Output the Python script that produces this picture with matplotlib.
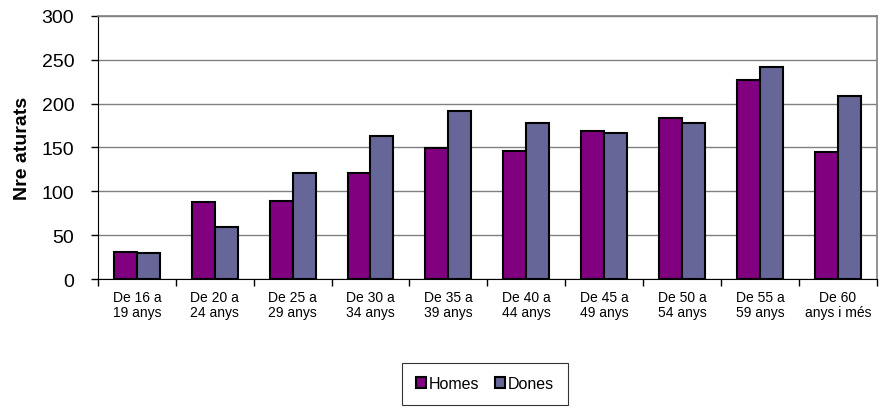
import numpy as np
import matplotlib.pyplot as plt

plt.rcParams['font.family'] = ['Liberation Sans', 'DejaVu Sans']

categories = ["De 16 a\n19 anys", "De 20 a\n24 anys", "De 25 a\n29 anys", "De 30 a\n34 anys",
              "De 35 a\n39 anys", "De 40 a\n44 anys", "De 45 a\n49 anys", "De 50 a\n54 anys",
              "De 55 a\n59 anys", "De 60\nanys i més"]
homes = [31, 88, 89, 121, 149, 146, 169, 183, 227, 145]
dones = [30, 59, 121, 163, 191, 178, 166, 178, 242, 209]

fig = plt.figure(figsize=(8.82, 4.10), dpi=100)
ax = fig.add_axes([0.111, 0.317, 0.883, 0.642])

x = np.arange(len(categories))
w = 0.295
ax.bar(x - w / 2, homes, w, color="#800080", edgecolor="black", linewidth=1.5, label="Homes", zorder=3)
ax.bar(x + w / 2, dones, w, color="#666699", edgecolor="black", linewidth=1.5, label="Dones", zorder=3)

ax.set_xlim(-0.5, len(categories) - 0.5)
ax.set_ylim(0, 300)
ax.set_yticks(range(0, 301, 50))
ax.tick_params(axis="y", labelsize=14, length=5, width=1, pad=12, colors="black")
ax.yaxis.grid(True, color="#808080", linewidth=1, zorder=0)

ax.set_xticks(np.arange(-0.5, len(categories), 1))
ax.set_xticklabels([])
ax.set_xticks(x, minor=True)
ax.set_xticklabels(categories, minor=True, fontsize=10, linespacing=1.1)
ax.tick_params(axis="x", which="major", length=5, width=1)
ax.tick_params(axis="x", which="minor", length=0, pad=8)

for side in ["top", "right"]:
    ax.spines[side].set_color("#808080")
    ax.spines[side].set_linewidth(1.2)
ax.spines["left"].set_color("black")
ax.spines["bottom"].set_color("black")

ax.set_ylabel("Nre aturats", fontsize=14, fontweight="bold", labelpad=8)

leg = fig.legend(loc="center", bbox_to_anchor=(0.55, 0.062), ncol=2, fontsize=11.5,
                 frameon=True, fancybox=False, edgecolor="black", handlelength=0.6,
                 handleheight=0.6, handletextpad=0.2, columnspacing=1.0,
                 borderpad=0.85)
leg.get_frame().set_linewidth(0.8)

fig.savefig("out.png", dpi=100)
